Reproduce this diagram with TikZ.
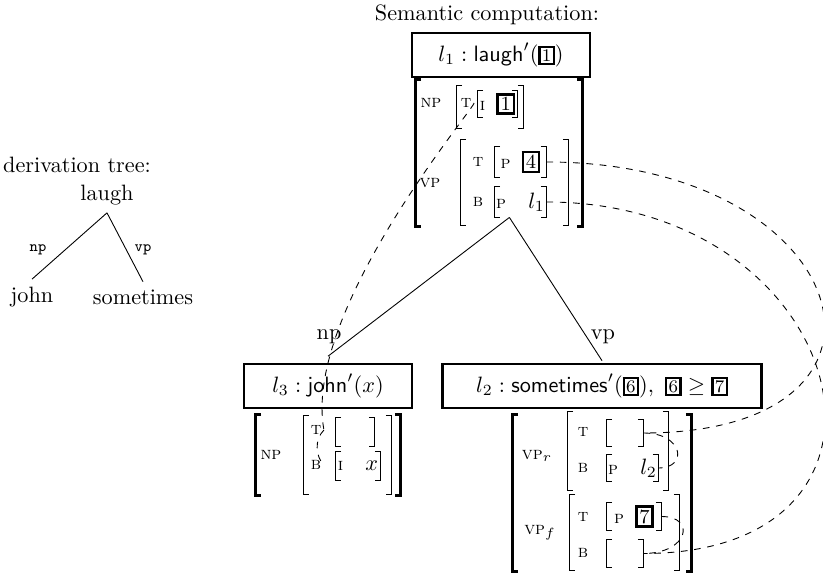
\documentclass[tikz,border=0pt]{standalone}
\usepackage{amsmath}
\usepackage{amssymb}
\usepackage{tikz}
\tikzset{
	% sizes are given in pixels of the picture grid
	wh/.style 2 args={minimum width=#1*0.45pt, minimum height=#2*0.45pt, inner sep=0pt},
	% boxes with the semantic representations
	sem/.style={draw, line width=1pt},
	% feature names
	lab/.style={inner sep=1pt, font=\footnotesize\scshape},
	% edge labels of the derivation tree
	dlab/.style={inner sep=1pt, font=\scriptsize\ttfamily},
	tree/.style={line width=0.4pt},
	link/.style={dashed, line width=0.4pt}
}
\newcommand\feat[1]{{\footnotesize\scshape #1}}
\newcommand\tagnum[1]{{\setlength\fboxrule{1.1pt}\setlength\fboxsep{0.8pt}\fbox{\small #1}}}
\newcommand\tagsm[1]{{\setlength\fboxrule{1pt}\setlength\fboxsep{0.6pt}\fbox{\footnotesize #1}}}
\newcommand\brk[2][0.45pt]{\draw [line width=#1] ([xshift=2.5pt]#2.north west) -- (#2.north west) -- (#2.south west) -- ([xshift=2.5pt]#2.south west)
	([xshift=-2.5pt]#2.north east) -- (#2.north east) -- (#2.south east) -- ([xshift=-2.5pt]#2.south east);}
\begin{document}
\begin{tikzpicture}[x=0.45pt, y=-0.45pt]
	\useasboundingbox (0,0) rectangle (823,573);
	\node (dtree) at (77,165) {derivation tree:};
	\node (laugh) at (107,195) {laugh};
	\node (john) at (32,297) {john};
	\node (smtimes) at (143,297) {sometimes};
	\draw [tree] (laugh.south) -- (john.north);
	\draw [tree] (laugh.south) -- (smtimes.north);
	\node [dlab] (dnp) at (38,250) {np};
	\node [dlab] (dvp) at (143,250) {vp};
	\node (title) at (487,15) {Semantic computation:};
	\node [sem, wh={178}{44}] (l1) at (501,55) {$l_1:\mathsf{laugh}'(\tagsm{1})$};
	\node [wh={166}{146}] (tAVM) at (499,153) {};
	\node [lab] (tNP) at (431,103) {np};
	\node [wh={66}{42}] (tNPv) at (490,107) {};
	\node [lab] (tNPT) at (466,103) {t};
	\node [wh={39}{26}] (tNPTv) at (497.5,104) {\feat{i}\enskip\tagnum{1}};
	\node [lab] (tVP) at (430,183) {vp};
	\node [wh={107}{85}] (tVPv) at (514.5,182.5) {};
	\node [lab] (tVPT) at (478,162) {t};
	\node [lab] (tVPB) at (478,202) {b};
	\node [wh={51}{30}] (tVPTv) at (520.5,162) {\feat{p}\enskip\tagnum{4}};
	\node [wh={51}{30}] (tVPBv) at (520.5,202) {\feat{p}\quad$l_1$};
	\node [sem, wh={168}{44}] (l3) at (328,386) {$l_3:\mathsf{john}'(x)$};
	\node [wh={144}{80}] (lAVM) at (328,455) {};
	\node [lab] (lNP) at (271,455) {np};
	\node [wh={87}{78}] (lNPv) at (347.5,455) {};
	\node [lab] (lT) at (316,430) {t};
	\node [lab] (lB) at (316,465) {b};
	\node [wh={38}{28}] (lTv) at (355,432) {};
	\node [wh={44}{28}] (lBv) at (358,466) {\feat{i}\quad$x$};
	\node [sem, wh={319}{44}] (l2) at (602,386) {$l_2:\mathsf{sometimes}'(\tagsm{6}),\ \tagsm{6}\geq\tagsm{7}$};
	\node [wh={178}{156}] (rAVM) at (602,493) {};
	\node [lab] (rVPr) at (537,456) {vp$_r$};
	\node [wh={100}{78}] (rVPrv) at (618,451) {};
	\node [lab] (rrT) at (583,432) {t};
	\node [lab] (rrB) at (583,468) {b};
	\node [wh={36}{26}] (rrTv) at (625,433) {};
	\node [wh={51}{27}] (rrBv) at (632.5,468) {\feat{p}\quad$l_2$};
	\node [lab] (rVPf) at (540,533) {vp$_f$};
	\node [wh={109}{75}] (rVPfv) at (624.5,532.5) {};
	\node [lab] (rfT) at (583,517) {t};
	\node [lab] (rfB) at (583,553) {b};
	\node [wh={54}{27}] (rfTv) at (634,516.5) {\feat{p}\enskip\tagnum{7}};
	\node [wh={36}{27}] (rfBv) at (625,553.5) {};
	\foreach \n in {tAVM, lAVM, rAVM} {\brk[1pt]{\n}}
	\foreach \n in {tNPv, tVPv, lNPv, rVPrv, rVPfv} {\brk[0.7pt]{\n}}
	\foreach \n in {tNPTv, tVPTv, tVPBv, lTv, lBv, rrTv, rrBv, rfTv, rfBv} {\brk{\n}}
	\draw [tree] ([xshift=-5pt]tVPBv.south) -- ([yshift=3pt]l3.north);
	\draw [tree] ([xshift=-5pt]tVPBv.south) -- ([yshift=1pt]l2.north);
	\node (snp) at (329,337) {np};
	\node (svp) at (603,337) {vp};
	\draw [link] (tNPT.east) .. controls +(5,0) and +(-22,-120) .. (lT.east);
	\draw [link] (lT.east) .. controls +(-10,10) and +(-8,-8) .. (lB.east);
	\draw [link] (tVPTv.east) .. controls +(310,0) and +(290,0) .. (rrTv.east);
	\draw [link] (tVPBv.east) .. controls +(305,0) and +(295,0) .. (rfBv.east);
	\draw [link] (rrTv.east) .. controls +(40,0) and +(30,0) .. (rrBv.east);
	\draw [link] (rfTv.east) .. controls +(35,0) and +(45,0) .. (rfBv.east);
\end{tikzpicture}
\end{document}
